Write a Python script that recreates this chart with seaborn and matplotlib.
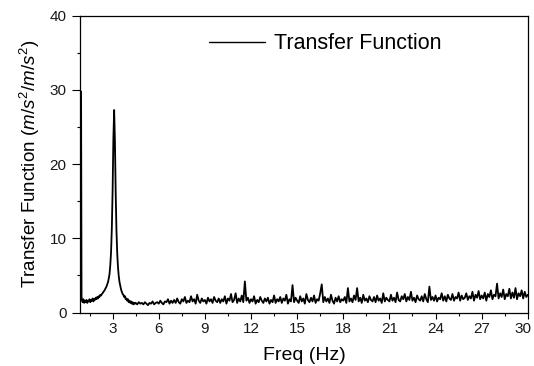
import numpy as np
import pandas as pd
import matplotlib
matplotlib.use("Agg")
import matplotlib.pyplot as plt
from matplotlib.ticker import MultipleLocator
from matplotlib.transforms import ScaledTranslation
import seaborn as sns

# ---- data ----
low_freq = [0.95, 0.98] + [round(1.0 + 0.05 * i, 2) for i in range(70)]
low_val = [29.8, 2.2,
           1.7, 1.4, 1.8, 1.3, 1.6, 1.4, 1.7, 1.3, 1.6, 1.5,
           1.8, 1.4, 1.7, 1.6, 1.9, 1.5, 1.8, 1.7, 2.0, 1.8,
           2.1, 1.9, 2.2, 2.1, 2.4, 2.3, 2.5, 2.6, 2.8, 2.9,
           3.1, 3.3, 3.5, 3.8, 4.1, 4.6, 5.2, 6.4, 8.2, 11.4,
           16.4, 23.4, 27.3, 23.2, 16.2, 11.1, 8.0, 6.1, 4.9, 4.1,
           3.6, 3.1, 2.8, 2.5, 2.4, 2.1, 2.2, 1.8, 1.9, 1.6,
           1.8, 1.4, 1.6, 1.3, 1.5, 1.2, 1.4, 1.1, 1.3, 1.2]

noise_val = [1.3, 1.1, 1.4, 1.2, 1.3,
             1.1, 1.4, 1.2, 1.0, 1.3, 1.2, 1.5, 1.1, 1.3, 1.4,
             1.2, 1.6, 1.3, 1.1, 1.5, 1.4, 1.8, 1.2, 1.6, 1.3,
             1.7, 1.3, 1.9, 1.4, 1.2, 1.8, 1.5, 2.1, 1.3, 1.6,
             1.4, 2.2, 1.5, 1.8, 1.2, 2.4, 1.6, 1.3, 1.9, 1.5,
             1.7, 1.2, 2.0, 1.5, 1.8, 1.3, 2.1, 1.6, 1.4, 1.9,
             1.3, 1.8, 1.5, 2.2, 1.2, 1.9, 1.6, 2.5, 1.4, 1.7,
             2.6, 1.3, 1.9, 1.5, 2.3, 1.4, 4.2, 1.6, 2.0, 1.3,
             1.8, 1.5, 2.2, 1.2, 1.7, 1.4, 2.1, 1.6, 1.3, 1.9,
             1.5, 2.0, 1.2, 1.7, 1.4, 2.3, 1.3, 1.8, 1.5, 2.1,
             1.3, 1.9, 1.6, 2.4, 1.2, 1.8, 1.5, 3.7, 1.4, 2.0,
             1.6, 1.3, 2.2, 1.5, 1.9, 1.2, 2.5, 1.7, 1.4, 2.0,
             1.5, 2.3, 1.3, 1.8, 1.6, 2.6, 3.8, 1.4, 2.1, 1.5,
             1.9, 1.3, 2.4, 1.6, 1.2, 2.0, 1.5, 2.2, 1.4, 1.8,
             1.6, 2.1, 1.3, 3.3, 1.5, 1.9, 1.4, 2.3, 1.7, 3.3,
             1.5, 2.0, 1.3, 2.4, 1.6, 1.9, 1.4, 2.2, 1.7, 1.5,
             2.1, 1.4, 2.3, 1.6, 1.9, 1.3, 2.6, 1.5, 2.0, 1.7,
             1.5, 2.4, 1.6, 2.0, 1.4, 2.7, 1.7, 1.5, 2.2, 1.8,
             2.5, 1.5, 2.1, 1.7, 2.8, 1.6, 2.0, 1.4, 2.3, 1.8,
             1.6, 2.2, 1.5, 2.5, 1.8, 1.4, 3.5, 1.7, 2.1, 1.6,
             2.3, 1.5, 2.0, 1.8, 2.6, 1.6, 2.2, 1.5, 2.4, 1.9,
             1.7, 2.5, 1.6, 2.1, 1.9, 2.7, 1.6, 2.3, 1.8, 2.0,
             2.6, 1.7, 2.2, 1.9, 2.8, 1.6, 2.4, 2.0, 2.9, 1.8,
             2.3, 1.9, 2.7, 1.6, 2.5, 2.1, 3.0, 1.8, 2.4, 2.2,
             3.9, 1.9, 2.6, 2.1, 3.1, 1.8, 2.5, 2.2, 3.2, 1.9,
             2.7, 2.0, 3.3, 1.8, 2.6, 2.2, 3.0, 1.9, 2.8, 2.1,
             2.4]
noise_freq = [round(4.5 + 0.1 * i, 2) for i in range(len(noise_val))]

x_ticks = [3, 6, 9, 12, 15, 18, 21, 24, 27, 30]
y_ticks = [0, 10, 20, 30, 40]
series_label = "Transfer Function"
x_label = "Freq (Hz)"
y_label = r"Transfer Function $(m/s^2/m/s^2)$"

df = pd.DataFrame({"freq": low_freq + noise_freq, "value": low_val + noise_val})

# ---- style ----
sns.set_style("ticks")
plt.rcParams["font.family"] = ["Liberation Sans", "DejaVu Sans"]
plt.rcParams["mathtext.fontset"] = "custom"
plt.rcParams["mathtext.rm"] = "Liberation Sans"
plt.rcParams["mathtext.it"] = "Liberation Sans:italic"

fig = plt.figure(figsize=(5.34, 3.66), dpi=100)
ax = fig.add_axes([0.1504, 0.146, 0.838, 0.811])

sns.lineplot(data=df, x="freq", y="value", color="black", linewidth=1.3,
             label=series_label, ax=ax, sort=True, estimator=None)

ax.set_xlim(0.9, 30)
ax.set_ylim(0, 40)
ax.set_xticks(x_ticks)
ax.set_yticks(y_ticks)
ax.xaxis.set_minor_locator(MultipleLocator(1.5))
ax.yaxis.set_minor_locator(MultipleLocator(5))
ax.tick_params(axis="both", which="major", direction="out", labelsize=11,
               labelcolor="#1a1a1a", color="black", width=0.8)
ax.tick_params(axis="x", which="major", length=4, pad=3)
ax.tick_params(axis="y", which="major", length=6, pad=4)
ax.tick_params(axis="both", which="minor", direction="out", length=2.5,
               color="black", width=0.8)

for s in ax.spines.values():
    s.set_visible(True)
    s.set_linewidth(0.9)
    s.set_color("black")

# keep the last x tick label inside the image, as in the reference
fig.canvas.draw()
last = ax.get_xticklabels()[-1]
last.set_transform(last.get_transform() +
                   ScaledTranslation(-5 / 100, 0, fig.dpi_scale_trans))

ax.set_xlabel(x_label, fontsize=14, labelpad=8, color="black")
ax.set_ylabel(y_label, fontsize=13.5, labelpad=5, color="black")

leg = ax.legend(loc="center left", bbox_to_anchor=(0.287, 0.905),
                frameon=False, fontsize=15.5, handlelength=2.6,
                handletextpad=0.45, borderpad=0, borderaxespad=0)
for line in leg.get_lines():
    line.set_linewidth(1.0)
for t in leg.get_texts():
    t.set_color("black")

fig.savefig("out.png", dpi=100)
